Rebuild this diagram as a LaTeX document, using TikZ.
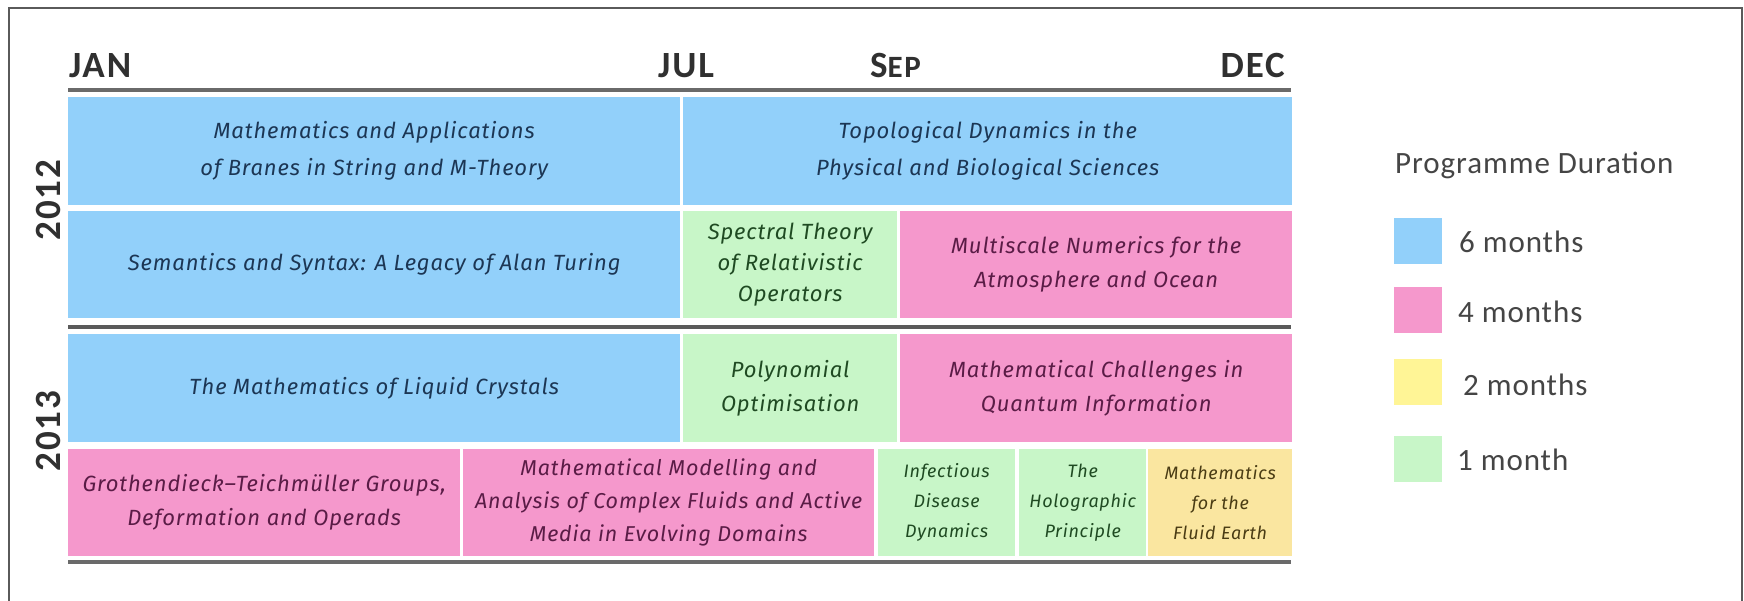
\documentclass[tikz,border=0pt]{standalone}
\usepackage{fontspec}
\setmainfont{Carlito}
\newfontfamily\progfam{Fira Sans}[LetterSpace=4]
\newfontfamily\legfam{Carlito}[LetterSpace=3]
\newfontfamily\headfam{Carlito}[LetterSpace=5]
\definecolor{cblue}{HTML}{92D0FA}
\definecolor{cpink}{HTML}{F598CC}
\definecolor{cgreen}{HTML}{C8F6C8}
\definecolor{cyelbox}{HTML}{FAE6A0}
\definecolor{cyelleg}{HTML}{FFF596}
\definecolor{tblue}{HTML}{1C3654}
\definecolor{tpink}{HTML}{5A1C46}
\definecolor{tgreen}{HTML}{1F4A22}
\definecolor{tyel}{HTML}{4A3C14}
\definecolor{rulegray}{HTML}{6A6A6A}
\definecolor{framegray}{HTML}{5A5A5A}
\definecolor{headtext}{HTML}{303030}
\definecolor{legtext}{HTML}{454545}
\tikzset{
  prog/.style={rectangle, inner sep=0pt, anchor=north west, align=center,
    font=\progfam\itshape\fontsize{22}{34}\selectfont},
  progsmall/.style={prog, font=\progfam\itshape\fontsize{18}{30}\selectfont},
  pblue/.style={fill=cblue, text=tblue},
  ppink/.style={fill=cpink, text=tpink},
  pgreen/.style={fill=cgreen, text=tgreen},
  pyel/.style={fill=cyelbox, text=tyel},
  month/.style={inner sep=0pt, text=headtext, font=\headfam\bfseries\fontsize{37}{40}\selectfont},
  year/.style={inner sep=0pt, rotate=90, text=headtext, font=\headfam\bfseries\fontsize{37}{40}\selectfont},
  rulebar/.style={draw=rulegray, line width=4pt},
  swatch/.style={rectangle, inner sep=0pt, anchor=north west, minimum width=48pt, minimum height=46pt},
  legtxt/.style={inner sep=0pt, anchor=west, text=legtext, font=\legfam\fontsize{31}{34}\selectfont},
}
\begin{document}
\begin{tikzpicture}[x=1pt,y=-1pt]
\useasboundingbox (0,0) rectangle (1744,601);
% frame
\draw[framegray, line width=2pt] (9,601) -- (9,8) -- (1742,8) -- (1742,601);
% month headers
\node[month, anchor=base west] (jan) at (69,78) {JAN};
\node[month, anchor=base west] (jul) at (658,78) {JUL};
\node[month, anchor=base west] (sep) at (870,78) {S{\fontsize{31}{34}\selectfont EP}};
\node[month, anchor=base east] (dec) at (1285,78) {DEC};
% rules
\coordinate (h1) at (68,90); \coordinate (h2) at (1291,90);
\coordinate (s1) at (68,327); \coordinate (s2) at (1291,327);
\coordinate (b1) at (68,562); \coordinate (b2) at (1291,562);
\draw[rulebar] (h1) -- (h2);
\draw[rulebar, draw=framegray] (s1) -- (s2);
\draw[rulebar] (b1) -- (b2);
% years
\node[year] (y2012) at (48,200) {2012};
\node[year] (y2013) at (48,431) {2013};
% row 1
\node[prog, pblue, minimum width=612pt, minimum height=108pt, font=\progfam\itshape\fontsize{22}{37}\selectfont] (a) at (68,97)
  {Mathematics and Applications\\of Branes in String and M-Theory};
\node[prog, pblue, minimum width=609pt, minimum height=108pt, font=\progfam\itshape\fontsize{22}{37}\selectfont] (b) at (683,97)
  {Topological Dynamics in the\\Physical and Biological Sciences};
% row 2
\node[prog, pblue, minimum width=612pt, minimum height=107pt] (c) at (68,211)
  {Semantics and Syntax: A Legacy of Alan Turing};
\node[prog, pgreen, minimum width=214pt, minimum height=107pt, font=\progfam\itshape\fontsize{22}{31}\selectfont] (d) at (683,211)
  {Spectral Theory\\of Relativistic\\Operators};
\node[prog, ppink, minimum width=392pt, minimum height=107pt] (e) at (900,211)
  {Multiscale Numerics for the\\Atmosphere and Ocean};
% row 3
\node[prog, pblue, minimum width=612pt, minimum height=108pt] (f) at (68,334)
  {The Mathematics of Liquid Crystals};
\node[prog, pgreen, minimum width=214pt, minimum height=108pt] (g) at (683,334)
  {Polynomial\\Optimisation};
\node[prog, ppink, minimum width=392pt, minimum height=108pt] (h) at (900,334)
  {Mathematical Challenges in\\Quantum Information};
% row 4
\node[prog, ppink, minimum width=392pt, minimum height=107pt] (i) at (68,449)
  {Grothendieck–Teichmüller Groups,\\Deformation and Operads};
\node[prog, ppink, minimum width=411pt, minimum height=107pt, font=\progfam\itshape\fontsize{21.5}{33}\selectfont] (j) at (463,449)
  {Mathematical Modelling and\\Analysis of Complex Fluids and Active\\Media in Evolving Domains};
\node[progsmall, pgreen, minimum width=137pt, minimum height=107pt] (k) at (878,449)
  {Infectious\\Disease\\Dynamics};
\node[progsmall, pgreen, minimum width=127pt, minimum height=107pt] (l) at (1019,449)
  {The\\Holographic\\Principle};
\node[progsmall, pyel, minimum width=144pt, minimum height=107pt] (m) at (1148,449)
  {Mathematics\\for the\\Fluid Earth};
% legend
\node[legtxt] (legtitle) at (1395,165) {Programme Duration};
\node[swatch, fill=cblue] (sw6) at (1394,218) {};
\node[swatch, fill=cpink] (sw4) at (1394,287) {};
\node[swatch, fill=cyelleg] (sw2) at (1394,359) {};
\node[swatch, fill=cgreen] (sw1) at (1394,436) {};
\node[legtxt] (l6) at (1459,242) {6 months};
\node[legtxt] (l4) at (1458,312) {4 months};
\node[legtxt] (l2) at (1463,385) {2 months};
\node[legtxt] (l1) at (1457,460) {1 month};
\end{tikzpicture}
\end{document}
